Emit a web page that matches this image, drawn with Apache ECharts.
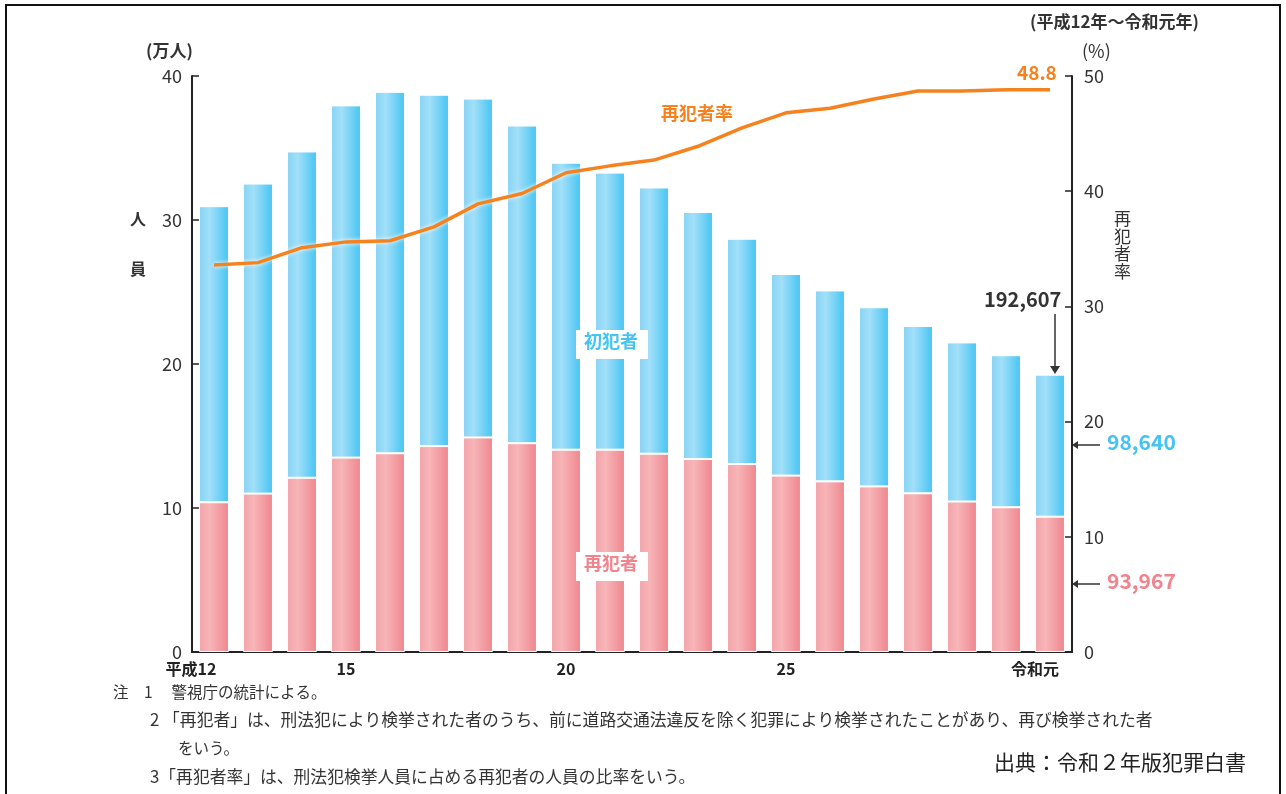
<!DOCTYPE html>
<html>
<head>
<meta charset="utf-8">
<script src="https://cdn.jsdelivr.net/npm/echarts@6/dist/echarts.min.js"></script>
<style>
  html, body { margin: 0; padding: 0; background: #fff; }
  #chart { width: 1286px; height: 794px; }
</style>
</head>
<body>
<div id="chart"></div>
<script>
// 平成12年〜令和元年 (万人 / %)
const years = ["H12","H13","H14","H15","H16","H17","H18","H19","H20","H21",
  "H22","H23","H24","H25","H26","H27","H28","H29","H30","R1"];
const tickLabels = ["平成12","","","15","","","","","20","","","","","25","","","","","","令和元"];
const saihan = [10.40,11.00,12.10,13.50,13.80,14.30,14.90,14.50,14.05,14.05,
  13.77,13.40,13.05,12.25,11.85,11.50,11.02,10.45,10.05,9.397];
const shohan = [20.56,21.53,22.66,24.46,25.10,24.40,23.53,22.06,19.93,19.24,
  18.49,17.16,15.65,14.00,13.26,12.44,11.62,11.05,10.56,9.864];
const rate = [33.6,33.8,35.1,35.6,35.7,36.9,38.9,39.8,41.6,42.2,
  42.7,43.9,45.5,46.8,47.2,48.0,48.7,48.7,48.8,48.8];

const FONT = '"Noto Sans CJK JP", "Noto Sans", sans-serif';
const chart = echarts.init(document.getElementById("chart"), null, { renderer: "canvas" });

const blueFill = new echarts.graphic.LinearGradient(0, 0, 1, 0, [
  { offset: 0, color: "#86d3f5" },
  { offset: 0.35, color: "#a2dff8" },
  { offset: 1, color: "#45c4f3" }
]);
const redFill = new echarts.graphic.LinearGradient(0, 0, 1, 0, [
  { offset: 0, color: "#f3a3a9" },
  { offset: 0.35, color: "#f7b5b8" },
  { offset: 1, color: "#ee868e" }
]);

const axisTextColor = "#333";

const option = {
  backgroundColor: "#fff",
  textStyle: { fontFamily: FONT },
  animation: false,
  grid: { left: 192, right: 214, top: 76, bottom: 142 },
  xAxis: {
    type: "category",
    data: years,
    axisLine: { lineStyle: { color: "#222", width: 2 } },
    axisTick: { show: false },
    axisLabel: {
      interval: 0,
      margin: 9,
      color: "#222",
      fontSize: 16,
      fontWeight: "bold",
      formatter: (v, i) => {
        const t = tickLabels[i];
        if (!t) return "";
        if (i === 0) return "{l|" + t + "}";
        if (i === years.length - 1) return "{r|" + t + "}";
        return t;
      },
      rich: {
        l: { fontSize: 16, fontWeight: "bold", color: "#222", padding: [0, 46, 0, 0] },
        r: { fontSize: 16, fontWeight: "bold", color: "#222", padding: [0, 30, 0, 0] }
      }
    }
  },
  yAxis: [
    {
      type: "value",
      min: 0,
      max: 40,
      interval: 10,
      splitLine: { show: false },
      axisLine: { show: true, lineStyle: { color: "#222", width: 2 } },
      axisTick: { show: true, inside: true, length: 7, lineStyle: { color: "#222", width: 1.5 } },
      axisLabel: { color: axisTextColor, fontSize: 18, margin: 10 }
    },
    {
      type: "value",
      min: 0,
      max: 50,
      interval: 10,
      splitLine: { show: false },
      axisLine: { show: true, lineStyle: { color: "#222", width: 2 } },
      axisTick: { show: true, inside: true, length: 7, lineStyle: { color: "#222", width: 1.5 } },
      axisLabel: { color: axisTextColor, fontSize: 18, margin: 12 }
    }
  ],
  series: [
    {
      name: "再犯者",
      type: "bar",
      stack: "total",
      barWidth: "68%",
      data: saihan,
      itemStyle: { color: redFill, borderColor: "#fff", borderWidth: 1 }
    },
    {
      name: "初犯者",
      type: "bar",
      stack: "total",
      data: shohan,
      itemStyle: { color: blueFill, borderColor: "#fff", borderWidth: 1 }
    },
    {
      name: "再犯者率",
      type: "line",
      yAxisIndex: 1,
      data: rate,
      symbol: "none",
      z: 5,
      lineStyle: {
        color: "#f5821f",
        width: 3.5,
        shadowColor: "rgba(255,255,255,1)",
        shadowBlur: 4
      }
    }
  ],
  graphic: [
    // outer frame
    { type: "rect", shape: { x: 6, y: 5, width: 1274, height: 800 },
      style: { fill: "none", stroke: "#111", lineWidth: 2 }, silent: true },
    // axis titles
    { type: "text", left: 146, top: 42, style: { text: "(万人)", font: "bold 17px " + FONT, fill: "#333" } },
    { type: "text", left: 130, top: 211, style: { text: "人", font: "bold 16px " + FONT, fill: "#333" } },
    { type: "text", left: 130, top: 261, style: { text: "員", font: "bold 16px " + FONT, fill: "#333" } },
    { type: "text", left: 1030, top: 13, style: { text: "(平成12年～令和元年)", font: "bold 17px " + FONT, fill: "#333" } },
    { type: "text", left: 1082, top: 42, style: { text: "(%)", font: "18px " + FONT, fill: "#333" } },
    { type: "text", left: 1114, top: 210, style: { text: "再\n犯\n者\n率", font: "17px " + FONT, fill: "#333", lineHeight: 17.5 } },
    // series labels
    { type: "text", left: 1017, top: 63, z: 100, style: { text: "48.8", font: "bold 19px " + FONT, fill: "#f5821f" } },
    { type: "text", left: 661, top: 104, z: 100, style: { text: "再犯者率", font: "bold 18px " + FONT, fill: "#f5821f" } },
    { type: "rect", z: 100, shape: { x: 576, y: 330, width: 72, height: 29 }, style: { fill: "#fff" } },
    { type: "text", z: 101, left: 584, top: 332, style: { text: "初犯者", font: "bold 18px " + FONT, fill: "#45c4f3" } },
    { type: "rect", z: 100, shape: { x: 576, y: 552, width: 72, height: 29 }, style: { fill: "#fff" } },
    { type: "text", z: 101, left: 584, top: 554, style: { text: "再犯者", font: "bold 18px " + FONT, fill: "#f0838c" } },
    // last year annotations
    { type: "text", z: 100, left: 984, top: 289, style: { text: "192,607", font: "bold 20px " + FONT, fill: "#333" } },
    { type: "line", z: 100, shape: { x1: 1055, y1: 314, x2: 1055, y2: 368 }, style: { stroke: "#333", lineWidth: 1.5 } },
    { type: "polygon", z: 100, shape: { points: [[1050, 366], [1060, 366], [1055, 374]] }, style: { fill: "#333" } },
    { type: "line", z: 100, shape: { x1: 1073, y1: 445, x2: 1100, y2: 445 }, style: { stroke: "#333", lineWidth: 1.5 } },
    { type: "polygon", z: 100, shape: { points: [[1072, 445], [1078, 441], [1078, 449]] }, style: { fill: "#333" } },
    { type: "text", z: 100, left: 1107, top: 432, style: { text: "98,640", font: "bold 21px " + FONT, fill: "#45c4f3" } },
    { type: "line", z: 100, shape: { x1: 1073, y1: 584, x2: 1100, y2: 584 }, style: { stroke: "#333", lineWidth: 1.5 } },
    { type: "polygon", z: 100, shape: { points: [[1072, 584], [1078, 580], [1078, 588]] }, style: { fill: "#333" } },
    { type: "text", z: 100, left: 1107, top: 571, style: { text: "93,967", font: "bold 21px " + FONT, fill: "#f0838c" } },
    // notes
    { type: "text", left: 113, top: 684, style: { text: "注　1　 警視庁の統計による。", font: "15.5px " + FONT, fill: "#333" } },
    { type: "text", left: 150, top: 711, style: { text: "2 「再犯者」は、刑法犯により検挙された者のうち、前に道路交通法違反を除く犯罪により検挙されたことがあり、再び検挙された者", font: "16.8px " + FONT, fill: "#333" } },
    { type: "text", left: 178, top: 740, style: { text: "をいう。", font: "15.5px " + FONT, fill: "#333" } },
    { type: "text", left: 150, top: 768, style: { text: "3「再犯者率」は、刑法犯検挙人員に占める再犯者の人員の比率をいう。", font: "16.8px " + FONT, fill: "#333" } },
    { type: "text", left: 994, top: 752, style: { text: "出典：令和２年版犯罪白書", font: "21px " + FONT, fill: "#222" } }
  ]
};

chart.setOption(option);
</script>
</body>
</html>
